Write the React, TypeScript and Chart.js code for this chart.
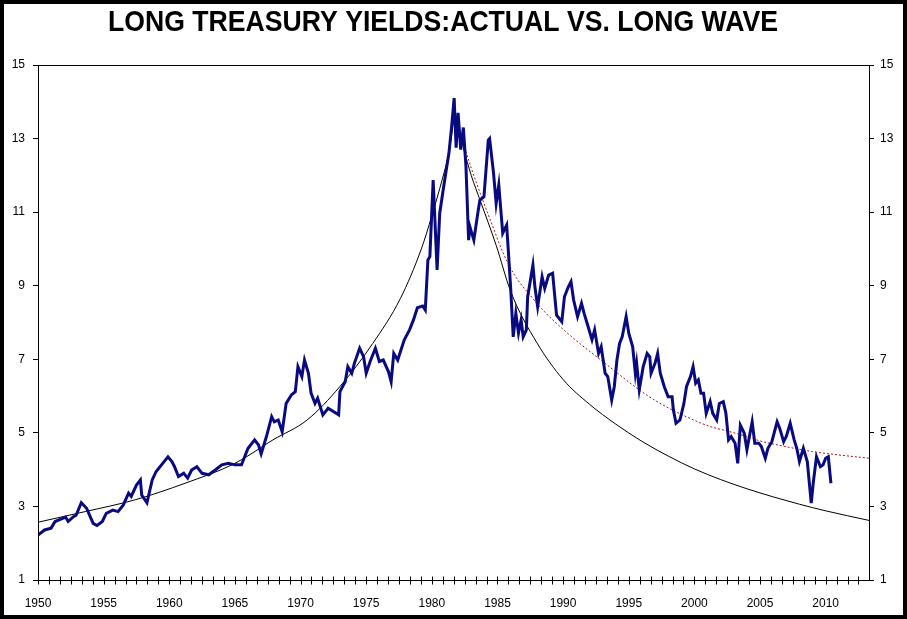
import React, { useEffect, useRef } from "react";
import { Chart, registerables } from "chart.js";

Chart.register(...registerables);

const chartTitle = "LONG TREASURY YIELDS:ACTUAL VS. LONG WAVE";

// Actual long treasury yield (year, %)
const blueYears = [
  1950.0, 1950.5, 1951.0, 1951.3, 1951.7, 1952.1, 1952.3, 1952.7, 1952.9, 1953.3, 1953.7, 1954.2, 1954.5, 1954.9,
  1955.2, 1955.7, 1956.1, 1956.5, 1956.9, 1957.1, 1957.5, 1957.8, 1957.9, 1958.3, 1958.7, 1959.0, 1959.5, 1959.9,
  1960.2, 1960.4, 1960.7, 1961.1, 1961.4, 1961.7, 1962.1, 1962.5, 1963.0, 1963.5, 1964.0, 1964.5, 1965.0, 1965.5,
  1966.0, 1966.5, 1966.8, 1967.0, 1967.4, 1967.8, 1968.0, 1968.3, 1968.6, 1968.9, 1969.3, 1969.6, 1969.8, 1970.1,
  1970.3, 1970.6, 1970.8, 1971.1, 1971.3, 1971.7, 1972.1, 1972.5, 1972.9, 1973.0, 1973.4, 1973.6, 1973.9, 1974.1,
  1974.5, 1974.8, 1975.0, 1975.3, 1975.7, 1976.0, 1976.3, 1976.7, 1976.9, 1977.1, 1977.4, 1977.9, 1978.3, 1978.6,
  1978.9, 1979.3, 1979.5, 1979.7, 1979.85, 1980.1, 1980.4, 1980.6, 1980.9, 1981.1, 1981.3, 1981.5, 1981.7, 1981.85,
  1982.0, 1982.2, 1982.4, 1982.6, 1982.8, 1982.9, 1983.2, 1983.5, 1983.66, 1983.97, 1984.3, 1984.4, 1984.7, 1984.9,
  1985.1, 1985.4, 1985.7, 1986.0, 1986.2, 1986.4, 1986.6, 1986.8, 1986.96, 1987.2, 1987.3, 1987.7, 1987.85, 1988.06,
  1988.4, 1988.6, 1988.9, 1989.2, 1989.5, 1989.9, 1990.1, 1990.4, 1990.6, 1990.8, 1991.1, 1991.4, 1991.6, 1991.9,
  1992.2, 1992.4, 1992.7, 1992.9, 1993.2, 1993.4, 1993.7, 1993.9, 1994.1, 1994.3, 1994.5, 1994.8, 1995.0, 1995.3,
  1995.5, 1995.6, 1995.8, 1996.1, 1996.4, 1996.6, 1996.7, 1997.0, 1997.2, 1997.4, 1997.7, 1998.0, 1998.3, 1998.4,
  1998.6, 1998.9, 1999.2, 1999.4, 1999.7, 1999.9, 2000.1, 2000.3, 2000.5, 2000.7, 2000.9, 2001.2, 2001.4, 2001.7,
  2001.9, 2002.2, 2002.4, 2002.6, 2002.8, 2003.1, 2003.3, 2003.5, 2003.8, 2004.0, 2004.4, 2004.6, 2004.9, 2005.1,
  2005.4, 2005.6, 2005.9, 2006.3, 2006.5, 2006.8, 2007.0, 2007.3, 2007.6, 2007.8, 2008.0, 2008.3, 2008.6, 2008.9,
  2009.05, 2009.3, 2009.6, 2009.8, 2010.0, 2010.2, 2010.4,
];
const blueYields = [
  2.22, 2.36, 2.41, 2.59, 2.65, 2.71, 2.59, 2.72, 2.76, 3.10, 2.95, 2.54, 2.48, 2.59,
  2.81, 2.90, 2.86, 3.04, 3.36, 3.27, 3.58, 3.72, 3.31, 3.10, 3.72, 3.95, 4.17, 4.35,
  4.22, 4.08, 3.81, 3.90, 3.77, 3.99, 4.08, 3.90, 3.86, 3.99, 4.13, 4.17, 4.13, 4.13,
  4.58, 4.81, 4.67, 4.43, 4.90, 5.44, 5.30, 5.35, 5.03, 5.80, 6.03, 6.12, 6.80, 6.53,
  6.98, 6.62, 6.08, 5.80, 5.94, 5.49, 5.67, 5.58, 5.49, 6.12, 6.39, 6.80, 6.62, 6.89,
  7.30, 7.07, 6.62, 6.94, 7.30, 6.94, 6.98, 6.66, 6.39, 7.16, 6.98, 7.53, 7.80, 8.07,
  8.40, 8.45, 8.34, 9.70, 9.79, 11.87, 9.43, 10.97, 11.69, 12.15, 12.60, 13.30, 14.10, 12.75,
  13.70, 12.70, 13.30, 12.24, 10.24, 10.60, 10.24, 10.97, 11.33, 11.42, 12.96, 13.00, 12.06, 11.24,
  11.74, 10.43, 10.65, 8.97, 7.61, 8.25, 7.71, 8.07, 7.61, 7.80, 8.70, 9.56, 8.97, 8.43,
  9.24, 8.93, 9.29, 9.34, 8.20, 8.02, 8.70, 8.97, 9.11, 8.61, 8.16, 8.52, 8.25, 7.89,
  7.53, 7.80, 7.16, 7.34, 6.62, 6.53, 5.89, 6.26, 6.98, 7.43, 7.61, 8.16, 7.71, 7.34,
  6.62, 6.89, 6.17, 6.80, 7.16, 7.07, 6.62, 6.89, 7.16, 6.62, 6.26, 5.98, 5.98, 5.62,
  5.26, 5.35, 5.80, 6.26, 6.53, 6.80, 6.35, 6.44, 6.08, 6.08, 5.53, 5.85, 5.53, 5.35,
  5.80, 5.85, 5.53, 4.81, 4.90, 4.72, 4.17, 5.21, 4.99, 4.54, 5.30, 4.72, 4.72, 4.63,
  4.31, 4.58, 4.76, 5.30, 5.12, 4.76, 4.90, 5.26, 4.81, 4.58, 4.22, 4.58, 4.22, 3.09,
  3.63, 4.35, 4.08, 4.13, 4.31, 4.35, 3.63,
];

// Long wave (black line)
const waveYears = [
  1950.0, 1953.6, 1957.4, 1961.2, 1965.0, 1967.9, 1970.5, 1973.0, 1975.5, 1977.6, 1979.2, 1980.0, 1980.8, 1981.3, 1981.8,
  1982.4, 1983.0, 1983.7, 1984.9, 1986.0, 1988.0, 1990.0, 1992.0, 1994.0, 1996.0, 1998.0, 2000.0,
  2002.0, 2004.0, 2006.0, 2008.0, 2010.0, 2013.3,
];
const waveValues = [
  2.57, 2.86, 3.18, 3.63, 4.17, 4.81, 5.35, 6.26, 7.43, 8.65, 10.0, 10.9, 11.9, 12.6, 13.6,
  12.75, 12.0, 11.3, 10.1, 8.85, 7.45, 6.45, 5.78, 5.24, 4.77, 4.37, 4.02,
  3.73, 3.48, 3.26, 3.06, 2.88, 2.62,
];

// Declining trend (red dotted line)
const trendYears = [
  1981.8, 1982.4, 1983.0, 1983.7, 1984.6, 1985.3, 1986.2, 1987.7, 1988.7, 1990.3, 1991.3, 1992.8, 1993.8, 1995.3,
  1996.4, 1997.9, 1998.9, 2000.4, 2001.4, 2002.4, 2004.0, 2005.0, 2006.5, 2009.0, 2011.0, 2013.3,
];
const trendValues = [
  13.6, 12.87, 12.2, 11.5, 10.65, 10.0, 9.35, 8.65, 8.25, 7.72, 7.42, 7.0, 6.72, 6.3,
  6.02, 5.7, 5.52, 5.28, 5.15, 5.06, 4.9, 4.78, 4.66, 4.49, 4.4, 4.31,
];

const xMin = 1950;
const xMax = 2013.3;
const xLabelStep = 5;
const xMinorStep = 10 / 12;
const yMin = 1;
const yMax = 15;
const yStep = 2;

const toPoints = (xs: number[], ys: number[]) => xs.map((x, i) => ({ x, y: ys[i] }));

const titlePlugin = {
  id: "narrowTitle",
  afterDraw(chart: any) {
    const ctx = chart.ctx;
    ctx.save();
    ctx.font = "bold 30px 'Liberation Sans', Arial, sans-serif";
    ctx.fillStyle = "#000";
    ctx.textAlign = "left";
    ctx.textBaseline = "alphabetic";
    const w = ctx.measureText(chartTitle).width;
    const targetW = 670;
    const sx = targetW / w;
    ctx.translate(443 - targetW / 2, 31);
    ctx.scale(sx, 1);
    ctx.fillText(chartTitle, 0, 0);
    ctx.restore();
  },
};

const framePlugin = {
  id: "frame",
  afterDatasetsDraw(chart: any) {
    const { ctx, chartArea } = chart;
    const xs = chart.scales.x;
    ctx.save();
    ctx.strokeStyle = "#000";
    ctx.lineWidth = 1;
    ctx.beginPath();
    ctx.rect(Math.round(chartArea.left) + 0.5, Math.round(chartArea.top) + 0.5,
      Math.round(chartArea.right - chartArea.left), Math.round(chartArea.bottom - chartArea.top));
    ctx.stroke();
    const b = Math.round(chartArea.bottom) + 0.5;
    ctx.beginPath();
    for (let v = xMin; v <= xMax + 1e-6; v += xMinorStep) {
      const px = Math.round(xs.getPixelForValue(v)) + 0.5;
      ctx.moveTo(px, b - 4);
      ctx.lineTo(px, b + 4);
    }
    ctx.stroke();
    ctx.restore();
  },
};

export default function App() {
  const ref = useRef<HTMLCanvasElement | null>(null);
  useEffect(() => {
    document.body.style.margin = "0";
    const tickFont = { family: "'Liberation Sans', Arial, sans-serif", size: 12 };
    const chart = new Chart(ref.current as HTMLCanvasElement, {
      type: "line",
      data: {
        datasets: [
          {
            label: "Actual",
            data: toPoints(blueYears, blueYields),
            borderColor: "#0a0a80",
            borderWidth: 3,
            pointRadius: 0,
            tension: 0,
            order: 1,
          },
          {
            label: "Long wave",
            data: toPoints(waveYears, waveValues),
            borderColor: "#000000",
            borderWidth: 1,
            pointRadius: 0,
            cubicInterpolationMode: "monotone",
            order: 3,
          },
          {
            label: "Trend",
            data: toPoints(trendYears, trendValues),
            borderColor: "#b01010",
            borderWidth: 1,
            borderDash: [2, 2],
            pointRadius: 0,
            cubicInterpolationMode: "monotone",
            order: 2,
          },
        ],
      },
      options: {
        responsive: false,
        animation: false,
        layout: { padding: { left: 0, right: 0, top: 65, bottom: 0 } },
        plugins: {
          legend: { display: false },
          tooltip: { enabled: false },
          title: { display: false },
        },
        scales: {
          x: {
            type: "linear",
            min: xMin,
            max: xMax,
            afterFit: (s: any) => { s.height = 39; },
            border: { display: true, color: "#000" },
            grid: { display: false, drawTicks: false },
            ticks: {
              stepSize: xLabelStep,
              includeBounds: false,
              padding: 16,
              color: "#000",
              font: tickFont,
              maxRotation: 0,
              callback: (v: any) => String(v),
            },
          },
          y: {
            position: "left",
            min: yMin,
            max: yMax,
            afterFit: (s: any) => { s.width = 38; },
            border: { display: true, color: "#000" },
            grid: { drawOnChartArea: false, tickLength: 5, color: "#000" },
            ticks: { stepSize: yStep, padding: 8, color: "#000", font: tickFont },
          },
          y2: {
            position: "right",
            min: yMin,
            max: yMax,
            afterFit: (s: any) => { s.width = 38; },
            border: { display: true, color: "#000" },
            grid: { drawOnChartArea: false, tickLength: 5, color: "#000" },
            ticks: { stepSize: yStep, padding: 6, color: "#000", font: tickFont },
          },
        },
      },
      plugins: [framePlugin, titlePlugin],
    } as any);
    return () => chart.destroy();
  }, []);
  return (
    <div style={{ position: "fixed", left: 0, top: 0, width: 907, height: 619, boxSizing: "border-box", border: "4px solid #000", background: "#fff" }}>
      <canvas ref={ref} width={907} height={619} style={{ position: "absolute", left: -4, top: -4, display: "block" }} />
    </div>
  );
}
